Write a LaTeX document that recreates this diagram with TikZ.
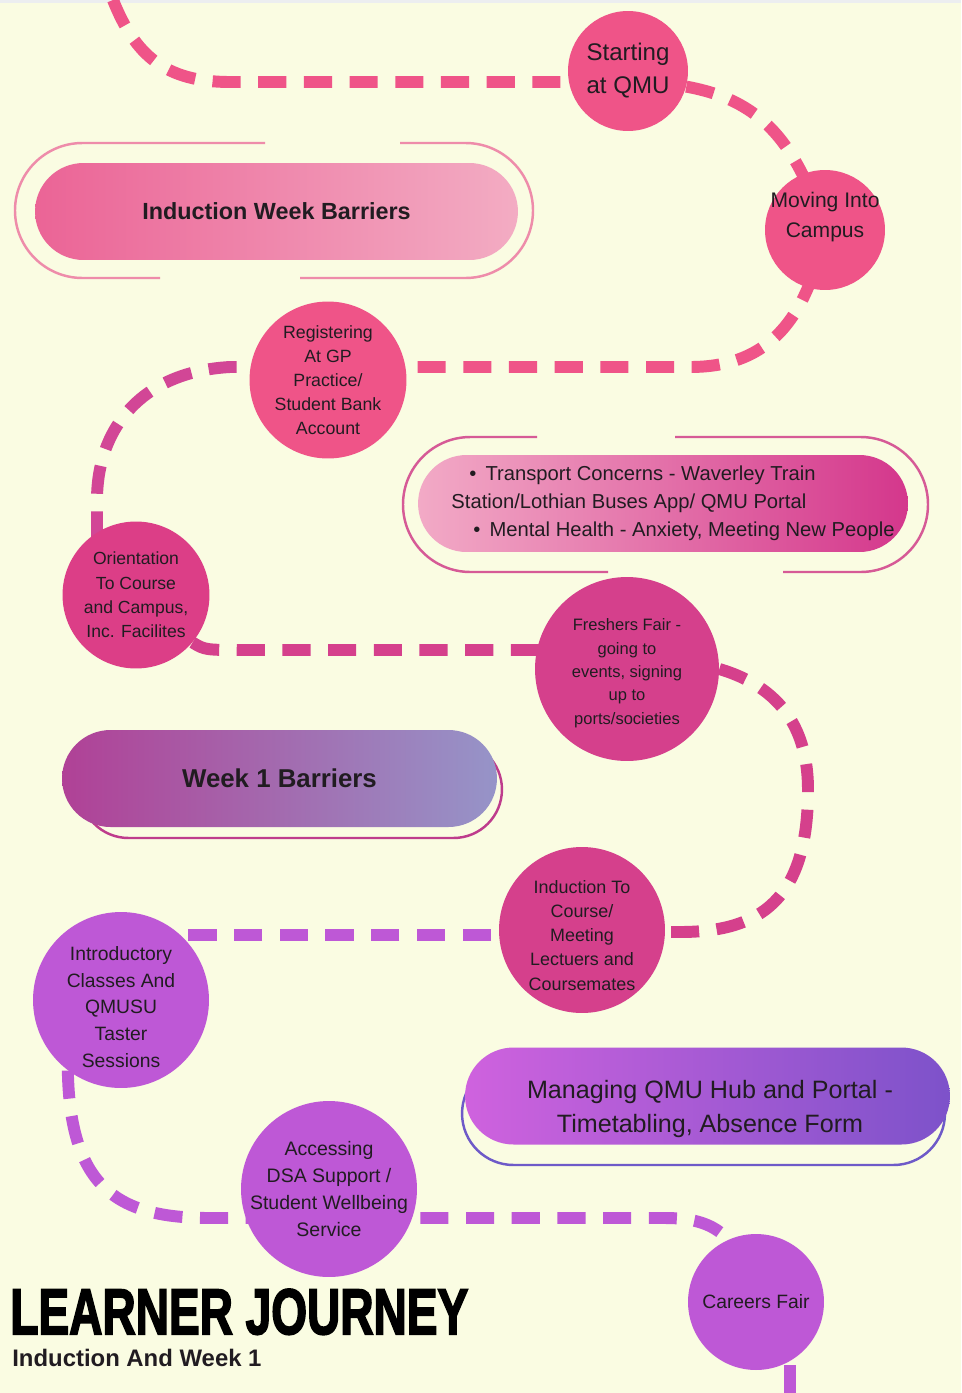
\documentclass[tikz,border=0pt]{standalone}
\usepackage{fontspec}
\setmainfont{Liberation Sans}
\newfontfamily\titlefont[BoldFeatures={FakeBold=3}]{Liberation Sans}
\usepackage{tikz}
\usetikzlibrary{backgrounds, calc}
\definecolor{qmubg}{RGB}{250,252,226}
\definecolor{qmutop}{RGB}{236,238,240}
\definecolor{qmuink}{RGB}{33,28,33}
\definecolor{qmupink}{RGB}{239,84,136}
\definecolor{qmucerise}{RGB}{220,62,135}
\definecolor{qmumagenta}{RGB}{213,64,140}
\definecolor{qmurose}{RGB}{210,70,150}
\definecolor{qmupurple}{RGB}{190,88,214}
\definecolor{qmublush}{RGB}{238,140,170}
\definecolor{qmuberry}{RGB}{214,90,150}
\definecolor{qmuplum}{RGB}{190,60,140}
\definecolor{qmuindigo}{RGB}{110,90,200}

\begin{document}
\begin{tikzpicture}[
    x=0.02cm, y=-0.02cm,
    stop/.style={circle, inner sep=-0.5cm, align=center, text=qmuink},
    trail/.style={line width=6.8pt, dash pattern=on 16pt off 10pt},
    pill/.style={rectangle, rounded corners=0.97cm, minimum width=9.66cm, minimum height=1.94cm, inner sep=0pt, align=center, text=qmuink},
    ring/.style={line width=1.4pt, rounded corners=1.35cm}
]
\useasboundingbox (0,0) rectangle (961,1393);

% stops on the journey
\node[stop, fill=qmupink, minimum size=2.4cm, font=\fontsize{13.7}{18.8}\selectfont] (start) at (628,71) {Starting\\at QMU};
\node[stop, fill=qmupink, minimum size=2.4cm, font=\fontsize{12}{17.1}\selectfont] (moving) at (825,230) {Moving Into\\Campus\\\mbox{}};
\node[stop, fill=qmupink, minimum size=3.14cm, font=\fontsize{10.1}{13.7}\selectfont] (reg) at (328,380) {Registering\\At GP\\Practice/\\Student Bank\\Account};
\node[stop, fill=qmucerise, minimum size=2.94cm, font=\fontsize{10}{13.8}\selectfont] (orient) at (136,595) {Orientation\\To Course\\and Campus,\\Inc. Facilites};
\node[stop, fill=qmumagenta, minimum size=3.68cm, font=\fontsize{9.4}{13.3}\selectfont] (fresh) at (627,669) {\rule{0pt}{11.5pt}Freshers Fair -\\going to\\events, signing\\up to\\ports/societies};
\node[stop, fill=qmumagenta, minimum size=3.32cm, font=\fontsize{10.2}{13.8}\selectfont] (induct) at (582,930) {\rule{0pt}{13.2pt}Induction To\\Course/\\Meeting\\Lectuers and\\Coursemates};
\node[stop, fill=qmupurple, minimum size=3.52cm, font=\fontsize{11}{15.1}\selectfont] (intro) at (121,1000) {\rule{0pt}{16pt}Introductory\\Classes And\\QMUSU\\Taster\\Sessions};
\node[stop, fill=qmupurple, minimum size=3.52cm, font=\fontsize{11.1}{15.2}\selectfont] (dsa) at (329,1189) {Accessing\\DSA Support /\\Student Wellbeing\\Service};
\node[stop, fill=qmupurple, minimum size=2.72cm, font=\fontsize{11}{15}\selectfont] (careers) at (756,1302) {Careers Fair};

% barrier pills
\draw[ring, qmublush] (265,143) -- (15,143) -- (15,278) -- (160,278);
\draw[ring, qmublush] (300,278) -- (533,278) -- (533,143) -- (400,143);
\node[pill, left color={rgb,255:red,235;green,100;blue,150}, right color={rgb,255:red,243;green,172;blue,195}, font=\bfseries\fontsize{13.3}{16}\selectfont] (iwb) at (276.5,211.5) {Induction Week Barriers};

\draw[ring, qmuberry] (537,437) -- (403,437) -- (403,572) -- (608,572);
\draw[ring, qmuberry] (783,572) -- (928,572) -- (928,437) -- (675,437);
\node[pill, minimum width=9.8cm, align=left, left color={rgb,255:red,242;green,170;blue,198}, right color={rgb,255:red,212;green,55;blue,140}, font=\fontsize{11.5}{15.9}\selectfont] (tpt) at (663,503.5) {\hspace{21.6pt}•\hspace{0.45em}Transport Concerns - Waverley Train\\\hspace{11.4pt}Station/Lothian Buses App/ QMU Portal\\\hspace{23.9pt}•\hspace{0.45em}Mental Health - Anxiety, Meeting New People};

\node[pill, draw=qmuplum, line width=1.4pt, minimum width=8.44cm] (w1bedge) at (291,789.5) {};
\node[pill, minimum width=8.7cm, left color={rgb,255:red,176;green,65;blue,150}, right color={rgb,255:red,150;green,148;blue,200}, font=\bfseries\fontsize{14.7}{17}\selectfont] (w1b) at (279.5,778.5) {Week 1 Barriers};

\node[pill, draw=qmuindigo, line width=1.4pt, minimum width=9.66cm, minimum height=2.06cm, rounded corners=1.03cm] (mqhedge) at (703.5,1113.5) {};
\node[pill, minimum width=9.7cm, left color={rgb,255:red,207;green,98;blue,222}, right color={rgb,255:red,125;green,82;blue,202}] (mqh) at (707.5,1096) {};
\node[align=center, text=qmuink, inner sep=0pt, font=\fontsize{14.3}{19.3}\selectfont] (mqhtext) at (710,1109) {Managing QMU Hub and Portal -\\Timetabling, Absence Form};

% title
\node[anchor=south west, inner sep=0pt, text=black] (title) at (10,1335) {\resizebox{9.16cm}{0.9cm}{\titlefont\bfseries LEARNER JOURNEY}};
\node[anchor=base west, inner sep=0pt, text=qmuink, font=\bfseries\fontsize{13.6}{16}\selectfont] (subtitle) at (12,1366) {Induction And Week 1};

\coordinate (trailhead) at (113,0);
\coordinate (trailend) at (790,1393);

% dashed trail behind the stops
\begin{pgfonlayer}{background}
\fill[qmubg] (0,0) rectangle (961,1393);
\fill[qmutop] (0,0) rectangle (961,3);
\begin{scope}
\clip (0,0) rectangle (961,1393);
\draw[trail, qmupink] (trailhead) .. controls (135,55) and (165,82) .. (230,82) -- (start.center |- 0,82);
\draw[trail, qmupink] (start.-15) .. controls (760,100) and (795,140) .. (moving.center);
\draw[trail, qmupink] (moving.center) .. controls (805,330) and (760,367) .. (690,367) -- (reg.center |- 0,367);
\draw[trail, qmurose] (reg.center |- 0,367) -- (230,367) .. controls (140,372) and (97,430) .. (97,500) |- (orient.center);
\draw[trail, qmumagenta] (orient.-40) .. controls (205,650) .. (245,650) -- (fresh.center |- 0,650);
\draw[trail, qmumagenta] (fresh.east) .. controls (790,690) and (808,740) .. (808,790) .. controls (808,900) and (760,932) .. (680,932) -- (induct.center |- 0,932);
\draw[trail, qmupurple] (induct.center |- 0,935) -- (intro.center |- 0,935);
\draw[trail, qmupurple] (intro.-127) .. controls (70,1190) and (120,1218) .. (210,1218) -- (dsa.center |- 0,1218);
\draw[trail, qmupurple] (dsa.center |- 0,1218) -- (665,1218) .. controls (715,1218) and (740,1235) .. (careers.center);
\draw[trail, qmupurple] (trailend) -- (careers.center -| trailend);
\end{scope}
\end{pgfonlayer}
\end{tikzpicture}
\end{document}
